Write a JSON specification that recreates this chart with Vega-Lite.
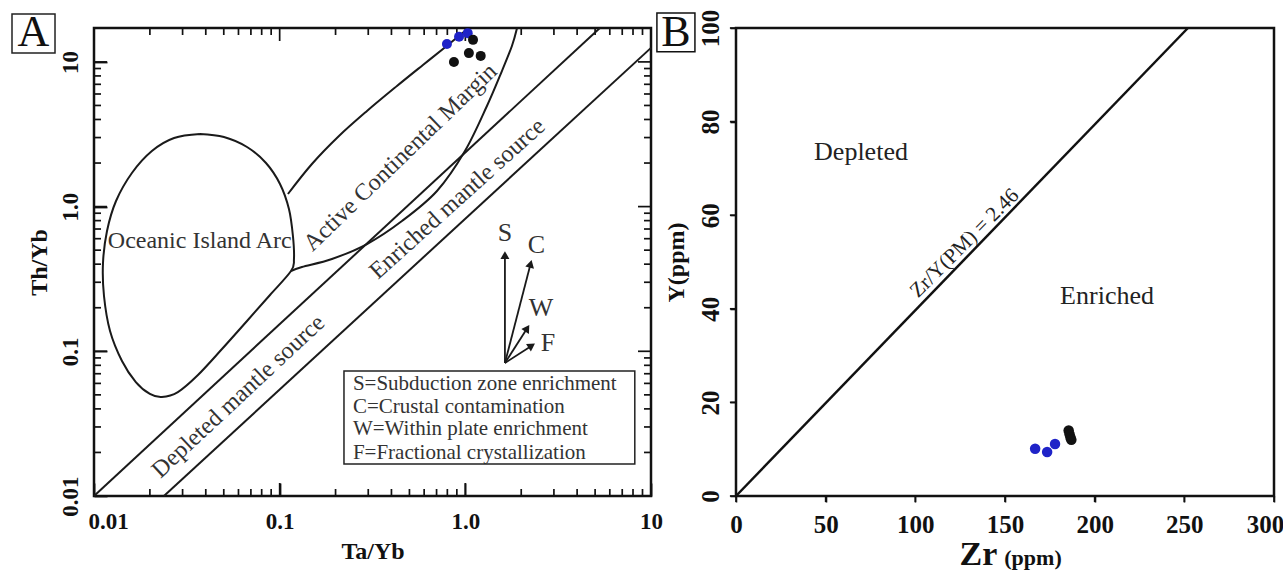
{
  "$schema": "https://vega.github.io/schema/vega-lite/v6.json",
  "background": "white",
  "padding": {"left": 10, "top": 8, "right": 0, "bottom": 0},
  "spacing": 85,
  "bounds": "flush",
  "config": {
    "view": {"stroke": "#111", "strokeWidth": 2.5},
    "font": "Liberation Serif",
    "axis": {"labelFont": "Liberation Serif", "titleFont": "Liberation Serif", "labelFontWeight": "bold", "titleFontWeight": "bold", "labelColor": "#111", "titleColor": "#111", "domain": false, "grid": false, "labelOverlap": false, "labelFlush": false},
    "text": {"font": "Liberation Serif"}
  },
  "datasets": {
    "mantle": [
      {"seg": "u", "o": 1, "x": 0.01, "y": 0.01},
      {"seg": "u", "o": 2, "x": 5.305, "y": 17.15},
      {"seg": "l", "o": 1, "x": 0.0238, "y": 0.01},
      {"seg": "l", "o": 2, "x": 10, "y": 12.5}
    ],
    "curves": [
      {"seg": "oia", "o": 1, "x": 0.0372, "y": 3.175},
      {"seg": "oia", "o": 2, "x": 0.0501, "y": 3.027},
      {"seg": "oia", "o": 3, "x": 0.0667, "y": 2.582},
      {"seg": "oia", "o": 4, "x": 0.0844, "y": 2.001},
      {"seg": "oia", "o": 5, "x": 0.1004, "y": 1.433},
      {"seg": "oia", "o": 6, "x": 0.1122, "y": 0.9625},
      {"seg": "oia", "o": 7, "x": 0.1179, "y": 0.6263},
      {"seg": "oia", "o": 8, "x": 0.1194, "y": 0.4344},
      {"seg": "oia", "o": 9, "x": 0.1151, "y": 0.3588},
      {"seg": "oia", "o": 10, "x": 0.0887, "y": 0.2449},
      {"seg": "oia", "o": 11, "x": 0.0667, "y": 0.162},
      {"seg": "oia", "o": 12, "x": 0.0489, "y": 0.1037},
      {"seg": "oia", "o": 13, "x": 0.0363, "y": 0.0686},
      {"seg": "oia", "o": 14, "x": 0.0283, "y": 0.0523},
      {"seg": "oia", "o": 15, "x": 0.0232, "y": 0.0483},
      {"seg": "oia", "o": 16, "x": 0.02, "y": 0.0507},
      {"seg": "oia", "o": 17, "x": 0.0168, "y": 0.0613},
      {"seg": "oia", "o": 18, "x": 0.01415, "y": 0.0857},
      {"seg": "oia", "o": 19, "x": 0.0122, "y": 0.1381},
      {"seg": "oia", "o": 20, "x": 0.01132, "y": 0.2411},
      {"seg": "oia", "o": 21, "x": 0.01118, "y": 0.4076},
      {"seg": "oia", "o": 22, "x": 0.01175, "y": 0.6784},
      {"seg": "oia", "o": 23, "x": 0.01314, "y": 1.093},
      {"seg": "oia", "o": 24, "x": 0.016, "y": 1.707},
      {"seg": "oia", "o": 25, "x": 0.0205, "y": 2.422},
      {"seg": "oia", "o": 26, "x": 0.027, "y": 2.979},
      {"seg": "oia", "o": 27, "x": 0.0372, "y": 3.175},
      {"seg": "acmL", "o": 1, "x": 0.1108, "y": 1.222},
      {"seg": "acmL", "o": 2, "x": 0.1492, "y": 1.97},
      {"seg": "acmL", "o": 3, "x": 0.2086, "y": 3.075},
      {"seg": "acmL", "o": 4, "x": 0.2953, "y": 4.579},
      {"seg": "acmL", "o": 5, "x": 0.4282, "y": 6.814},
      {"seg": "acmL", "o": 6, "x": 0.591, "y": 9.52},
      {"seg": "acmL", "o": 7, "x": 0.806, "y": 13.09},
      {"seg": "acmL", "o": 8, "x": 1.033, "y": 17.0},
      {"seg": "acmR", "o": 1, "x": 1.896, "y": 17.0},
      {"seg": "acmR", "o": 2, "x": 1.782, "y": 12.88},
      {"seg": "acmR", "o": 3, "x": 1.574, "y": 8.65},
      {"seg": "acmR", "o": 4, "x": 1.307, "y": 4.957},
      {"seg": "acmR", "o": 5, "x": 0.995, "y": 2.422},
      {"seg": "acmR", "o": 6, "x": 0.7034, "y": 1.282},
      {"seg": "acmR", "o": 7, "x": 0.4557, "y": 0.7951},
      {"seg": "acmR", "o": 8, "x": 0.2953, "y": 0.5514},
      {"seg": "acmR", "o": 9, "x": 0.1912, "y": 0.4344},
      {"seg": "acmR", "o": 10, "x": 0.1318, "y": 0.3825},
      {"seg": "acmR", "o": 11, "x": 0.1151, "y": 0.3588}
    ],
    "tkA": [
      {"x": 0.01, "y": 0.01, "x2": 0.01, "y2": 0.0123}, {"x": 0.02, "y": 0.01, "x2": 0.02, "y2": 0.01118}, {"x": 0.03, "y": 0.01, "x2": 0.03, "y2": 0.01118}, {"x": 0.04, "y": 0.01, "x2": 0.04, "y2": 0.01118}, {"x": 0.05, "y": 0.01, "x2": 0.05, "y2": 0.01118}, {"x": 0.06, "y": 0.01, "x2": 0.06, "y2": 0.01118}, {"x": 0.07, "y": 0.01, "x2": 0.07, "y2": 0.01118}, {"x": 0.08, "y": 0.01, "x2": 0.08, "y2": 0.01118}, {"x": 0.09, "y": 0.01, "x2": 0.09, "y2": 0.01118},
      {"x": 0.1, "y": 0.01, "x2": 0.1, "y2": 0.0123}, {"x": 0.2, "y": 0.01, "x2": 0.2, "y2": 0.01118}, {"x": 0.3, "y": 0.01, "x2": 0.3, "y2": 0.01118}, {"x": 0.4, "y": 0.01, "x2": 0.4, "y2": 0.01118}, {"x": 0.5, "y": 0.01, "x2": 0.5, "y2": 0.01118}, {"x": 0.6, "y": 0.01, "x2": 0.6, "y2": 0.01118}, {"x": 0.7, "y": 0.01, "x2": 0.7, "y2": 0.01118}, {"x": 0.8, "y": 0.01, "x2": 0.8, "y2": 0.01118}, {"x": 0.9, "y": 0.01, "x2": 0.9, "y2": 0.01118},
      {"x": 1, "y": 0.01, "x2": 1, "y2": 0.0123}, {"x": 2, "y": 0.01, "x2": 2, "y2": 0.01118}, {"x": 3, "y": 0.01, "x2": 3, "y2": 0.01118}, {"x": 4, "y": 0.01, "x2": 4, "y2": 0.01118}, {"x": 5, "y": 0.01, "x2": 5, "y2": 0.01118}, {"x": 6, "y": 0.01, "x2": 6, "y2": 0.01118}, {"x": 7, "y": 0.01, "x2": 7, "y2": 0.01118}, {"x": 8, "y": 0.01, "x2": 8, "y2": 0.01118}, {"x": 9, "y": 0.01, "x2": 9, "y2": 0.01118}, {"x": 10, "y": 0.01, "x2": 10, "y2": 0.0123},
      {"x": 0.01, "y": 17.15, "x2": 0.01, "y2": 13.94}, {"x": 0.02, "y": 17.15, "x2": 0.02, "y2": 15.34}, {"x": 0.03, "y": 17.15, "x2": 0.03, "y2": 15.34}, {"x": 0.04, "y": 17.15, "x2": 0.04, "y2": 15.34}, {"x": 0.05, "y": 17.15, "x2": 0.05, "y2": 15.34}, {"x": 0.06, "y": 17.15, "x2": 0.06, "y2": 15.34}, {"x": 0.07, "y": 17.15, "x2": 0.07, "y2": 15.34}, {"x": 0.08, "y": 17.15, "x2": 0.08, "y2": 15.34}, {"x": 0.09, "y": 17.15, "x2": 0.09, "y2": 15.34},
      {"x": 0.1, "y": 17.15, "x2": 0.1, "y2": 13.94}, {"x": 0.2, "y": 17.15, "x2": 0.2, "y2": 15.34}, {"x": 0.3, "y": 17.15, "x2": 0.3, "y2": 15.34}, {"x": 0.4, "y": 17.15, "x2": 0.4, "y2": 15.34}, {"x": 0.5, "y": 17.15, "x2": 0.5, "y2": 15.34}, {"x": 0.6, "y": 17.15, "x2": 0.6, "y2": 15.34}, {"x": 0.7, "y": 17.15, "x2": 0.7, "y2": 15.34}, {"x": 0.8, "y": 17.15, "x2": 0.8, "y2": 15.34}, {"x": 0.9, "y": 17.15, "x2": 0.9, "y2": 15.34},
      {"x": 1, "y": 17.15, "x2": 1, "y2": 13.94}, {"x": 2, "y": 17.15, "x2": 2, "y2": 15.34}, {"x": 3, "y": 17.15, "x2": 3, "y2": 15.34}, {"x": 4, "y": 17.15, "x2": 4, "y2": 15.34}, {"x": 5, "y": 17.15, "x2": 5, "y2": 15.34}, {"x": 6, "y": 17.15, "x2": 6, "y2": 15.34}, {"x": 7, "y": 17.15, "x2": 7, "y2": 15.34}, {"x": 8, "y": 17.15, "x2": 8, "y2": 15.34}, {"x": 9, "y": 17.15, "x2": 9, "y2": 15.34}, {"x": 10, "y": 17.15, "x2": 10, "y2": 13.94},
      {"x": 0.01, "y": 0.01, "x2": 0.01175, "y2": 0.01}, {"x": 0.01, "y": 0.02, "x2": 0.01091, "y2": 0.02}, {"x": 0.01, "y": 0.03, "x2": 0.01091, "y2": 0.03}, {"x": 0.01, "y": 0.04, "x2": 0.01091, "y2": 0.04}, {"x": 0.01, "y": 0.05, "x2": 0.01091, "y2": 0.05}, {"x": 0.01, "y": 0.06, "x2": 0.01091, "y2": 0.06}, {"x": 0.01, "y": 0.07, "x2": 0.01091, "y2": 0.07}, {"x": 0.01, "y": 0.08, "x2": 0.01091, "y2": 0.08}, {"x": 0.01, "y": 0.09, "x2": 0.01091, "y2": 0.09},
      {"x": 0.01, "y": 0.1, "x2": 0.01175, "y2": 0.1}, {"x": 0.01, "y": 0.2, "x2": 0.01091, "y2": 0.2}, {"x": 0.01, "y": 0.3, "x2": 0.01091, "y2": 0.3}, {"x": 0.01, "y": 0.4, "x2": 0.01091, "y2": 0.4}, {"x": 0.01, "y": 0.5, "x2": 0.01091, "y2": 0.5}, {"x": 0.01, "y": 0.6, "x2": 0.01091, "y2": 0.6}, {"x": 0.01, "y": 0.7, "x2": 0.01091, "y2": 0.7}, {"x": 0.01, "y": 0.8, "x2": 0.01091, "y2": 0.8}, {"x": 0.01, "y": 0.9, "x2": 0.01091, "y2": 0.9},
      {"x": 0.01, "y": 1, "x2": 0.01175, "y2": 1}, {"x": 0.01, "y": 2, "x2": 0.01091, "y2": 2}, {"x": 0.01, "y": 3, "x2": 0.01091, "y2": 3}, {"x": 0.01, "y": 4, "x2": 0.01091, "y2": 4}, {"x": 0.01, "y": 5, "x2": 0.01091, "y2": 5}, {"x": 0.01, "y": 6, "x2": 0.01091, "y2": 6}, {"x": 0.01, "y": 7, "x2": 0.01091, "y2": 7}, {"x": 0.01, "y": 8, "x2": 0.01091, "y2": 8}, {"x": 0.01, "y": 9, "x2": 0.01091, "y2": 9}, {"x": 0.01, "y": 10, "x2": 0.01175, "y2": 10},
      {"x": 10, "y": 0.01, "x2": 8.51, "y2": 0.01}, {"x": 10, "y": 0.02, "x2": 9.169, "y2": 0.02}, {"x": 10, "y": 0.03, "x2": 9.169, "y2": 0.03}, {"x": 10, "y": 0.04, "x2": 9.169, "y2": 0.04}, {"x": 10, "y": 0.05, "x2": 9.169, "y2": 0.05}, {"x": 10, "y": 0.06, "x2": 9.169, "y2": 0.06}, {"x": 10, "y": 0.07, "x2": 9.169, "y2": 0.07}, {"x": 10, "y": 0.08, "x2": 9.169, "y2": 0.08}, {"x": 10, "y": 0.09, "x2": 9.169, "y2": 0.09},
      {"x": 10, "y": 0.1, "x2": 8.51, "y2": 0.1}, {"x": 10, "y": 0.2, "x2": 9.169, "y2": 0.2}, {"x": 10, "y": 0.3, "x2": 9.169, "y2": 0.3}, {"x": 10, "y": 0.4, "x2": 9.169, "y2": 0.4}, {"x": 10, "y": 0.5, "x2": 9.169, "y2": 0.5}, {"x": 10, "y": 0.6, "x2": 9.169, "y2": 0.6}, {"x": 10, "y": 0.7, "x2": 9.169, "y2": 0.7}, {"x": 10, "y": 0.8, "x2": 9.169, "y2": 0.8}, {"x": 10, "y": 0.9, "x2": 9.169, "y2": 0.9},
      {"x": 10, "y": 1, "x2": 8.51, "y2": 1}, {"x": 10, "y": 2, "x2": 9.169, "y2": 2}, {"x": 10, "y": 3, "x2": 9.169, "y2": 3}, {"x": 10, "y": 4, "x2": 9.169, "y2": 4}, {"x": 10, "y": 5, "x2": 9.169, "y2": 5}, {"x": 10, "y": 6, "x2": 9.169, "y2": 6}, {"x": 10, "y": 7, "x2": 9.169, "y2": 7}, {"x": 10, "y": 8, "x2": 9.169, "y2": 8}, {"x": 10, "y": 9, "x2": 9.169, "y2": 9}, {"x": 10, "y": 10, "x2": 8.51, "y2": 10}
    ],
    "annA": [
      {"t": "Oceanic Island Arc", "x": 0.03713, "y": 0.5784},
      {"t": "Active Continental Margin", "x": 0.4472, "y": 2.184},
      {"t": "Enriched mantle source", "x": 0.9068, "y": 1.128},
      {"t": "Depleted mantle source", "x": 0.05999, "y": 0.0487}
    ],
    "rectsA": [
      {"k": "legend", "x": 0.222, "x2": 8.18, "y": 0.0731, "y2": 0.01664},
      {"k": "letter", "x": 0.003617, "x2": 0.006166, "y": 21.43, "y2": 11.52}
    ],
    "legA": [
      {"t": "S=Subduction zone enrichment", "x": 0.248, "y": 0.0594},
      {"t": "C=Crustal contamination", "x": 0.248, "y": 0.0412},
      {"t": "W=Within plate enrichment", "x": 0.248, "y": 0.029},
      {"t": "F=Fractional crystallization", "x": 0.248, "y": 0.0198}
    ],
    "arrA": [
      {"a": "S", "x": 1.634, "y": 0.083, "x2": 1.634, "y2": 0.4628},
      {"a": "C", "x": 1.634, "y": 0.083, "x2": 2.247, "y2": 0.4025},
      {"a": "W", "x": 1.634, "y": 0.083, "x2": 2.154, "y2": 0.1444},
      {"a": "F", "x": 1.634, "y": 0.083, "x2": 2.278, "y2": 0.1093}
    ],
    "headsA": [
      {"a": "S", "x": 1.634, "y": 0.4628},
      {"a": "C", "x": 2.247, "y": 0.4025},
      {"a": "W", "x": 2.154, "y": 0.1444},
      {"a": "F", "x": 2.278, "y": 0.1093}
    ],
    "arrLabA": [
      {"t": "S", "x": 1.634, "y": 0.6518},
      {"t": "C", "x": 2.415, "y": 0.5428},
      {"t": "W", "x": 2.554, "y": 0.1992},
      {"t": "F", "x": 2.785, "y": 0.1141}
    ],
    "letterA": [
      {"t": "A", "x": 0.00472, "y": 15.72}
    ],
    "ptsA": [
      {"grp": "blue", "x": 0.796, "y": 13.3},
      {"grp": "blue", "x": 0.925, "y": 14.9},
      {"grp": "blue", "x": 1.03, "y": 15.8},
      {"grp": "black", "x": 1.1, "y": 14.2},
      {"grp": "black", "x": 1.045, "y": 11.5},
      {"grp": "black", "x": 1.21, "y": 11.0},
      {"grp": "black", "x": 0.868, "y": 9.98}
    ],
    "lineB": [
      {"o": 1, "x": 0, "y": 0},
      {"o": 2, "x": 252, "y": 100}
    ],
    "tkB": [
      {"x": 0, "y": 0, "x2": 0, "y2": -1.3}, {"x": 50, "y": 0, "x2": 50, "y2": -1.3}, {"x": 100, "y": 0, "x2": 100, "y2": -1.3}, {"x": 150, "y": 0, "x2": 150, "y2": -1.3}, {"x": 200, "y": 0, "x2": 200, "y2": -1.3}, {"x": 250, "y": 0, "x2": 250, "y2": -1.3}, {"x": 300, "y": 0, "x2": 300, "y2": -1.3},
      {"x": 0, "y": 0, "x2": -3.4, "y2": 0}, {"x": 0, "y": 20, "x2": -3.4, "y2": 20}, {"x": 0, "y": 40, "x2": -3.4, "y2": 40}, {"x": 0, "y": 60, "x2": -3.4, "y2": 60}, {"x": 0, "y": 80, "x2": -3.4, "y2": 80}, {"x": 0, "y": 100, "x2": -3.4, "y2": 100}
    ],
    "annB": [
      {"t": "Depleted", "x": 69.7, "y": 73.4},
      {"t": "Enriched", "x": 206.9, "y": 42.8},
      {"t": "Zr/Y(PM) = 2.46", "x": 127.5, "y": 54.0}
    ],
    "rectB": [
      {"k": "letter", "x": -44.1, "x2": -22.9, "y": 103.2, "y2": 94.9}
    ],
    "letterB": [
      {"t": "B", "x": -33.5, "y": 99.0}
    ],
    "unitB": [
      {"t": "(ppm)", "x": 165.6, "y": -13.3}
    ],
    "ptsB": [
      {"grp": "blue", "x": 166.8, "y": 10.1},
      {"grp": "blue", "x": 173.5, "y": 9.4},
      {"grp": "blue", "x": 177.9, "y": 11.1},
      {"grp": "black", "x": 185.5, "y": 14.0},
      {"grp": "black", "x": 186.0, "y": 13.2},
      {"grp": "black", "x": 186.5, "y": 12.5},
      {"grp": "black", "x": 187.0, "y": 12.0}
    ]
  },
  "hconcat": [
    {
      "width": 557,
      "height": 468,
      "encoding": {
        "x": {"field": "x", "type": "quantitative", "scale": {"type": "log", "domain": [0.01, 10], "nice": false},
          "axis": {"orient": "bottom", "values": [0.01, 0.1, 1, 10],
            "labelExpr": "datum.value == 1 ? '1.0' : datum.value == 10 ? '10' : datum.value == 0.1 ? '0.1' : '0.01'",
            "labelOffset": {"condition": {"test": "datum.value == 0.01", "value": 14}, "value": 0},
            "offset": -13, "tickSize": 13, "tickWidth": 1.8, "tickColor": "#111", "labelFontSize": 23, "labelPadding": 14, "title": "Ta/Yb", "titleFontSize": 24, "titlePadding": 6}},
        "y": {"field": "y", "type": "quantitative", "scale": {"type": "log", "domain": [0.01, 17.15], "nice": false},
          "axis": {"orient": "left", "values": [0.01, 0.1, 1, 10],
            "labelExpr": "datum.value == 1 ? '1.0' : datum.value == 10 ? '10' : datum.value == 0.1 ? '0.1' : '0.01'",
            "offset": -13, "tickSize": 13, "tickWidth": 1.8, "tickColor": "#111", "labelFontSize": 23, "labelAngle": 270, "labelAlign": "center", "labelBaseline": "alphabetic", "labelPadding": 17,
            "title": "Th/Yb", "titleFontSize": 24, "titlePadding": 8}}
      },
      "layer": [
        {"data": {"name": "tkA"}, "mark": {"type": "rule", "color": "#111", "strokeWidth": 1.7}, "encoding": {"x2": {"field": "x2"}, "y2": {"field": "y2"}}},
        {"data": {"name": "mantle"}, "mark": {"type": "line", "color": "#1a1a1a", "strokeWidth": 2}, "encoding": {"detail": {"field": "seg"}, "order": {"field": "o"}}},
        {"data": {"name": "curves"}, "mark": {"type": "line", "interpolate": "cardinal", "color": "#1a1a1a", "strokeWidth": 2}, "encoding": {"detail": {"field": "seg"}, "order": {"field": "o"}}},
        {"data": {"name": "annA"}, "transform": [{"filter": "datum.t == 'Oceanic Island Arc'"}], "mark": {"type": "text", "fontSize": 24, "color": "#333", "align": "center", "baseline": "middle"}, "encoding": {"text": {"field": "t"}}},
        {"data": {"name": "annA"}, "transform": [{"filter": "datum.t == 'Active Continental Margin'"}], "mark": {"type": "text", "fontSize": 24, "color": "#333", "angle": 316, "align": "center", "baseline": "middle"}, "encoding": {"text": {"field": "t"}}},
        {"data": {"name": "annA"}, "transform": [{"filter": "datum.t == 'Enriched mantle source'"}], "mark": {"type": "text", "fontSize": 24, "color": "#333", "angle": 318, "align": "center", "baseline": "middle"}, "encoding": {"text": {"field": "t"}}},
        {"data": {"name": "annA"}, "transform": [{"filter": "datum.t == 'Depleted mantle source'"}], "mark": {"type": "text", "fontSize": 24, "color": "#333", "angle": 317, "align": "center", "baseline": "middle"}, "encoding": {"text": {"field": "t"}}},
        {"data": {"name": "rectsA"}, "mark": {"type": "rect", "fill": "white", "stroke": "#222", "strokeWidth": 1.5, "clip": false}, "encoding": {"x2": {"field": "x2"}, "y2": {"field": "y2"}}},
        {"data": {"name": "legA"}, "mark": {"type": "text", "fontSize": 21, "color": "#333", "align": "left", "baseline": "middle"}, "encoding": {"text": {"field": "t"}}},
        {"data": {"name": "arrA"}, "mark": {"type": "rule", "color": "#1a1a1a", "strokeWidth": 1.8}, "encoding": {"x2": {"field": "x2"}, "y2": {"field": "y2"}}},
        {"data": {"name": "headsA"}, "transform": [{"filter": "datum.a == 'S'"}], "mark": {"type": "point", "shape": "triangle-up", "filled": true, "size": 80, "color": "#1a1a1a", "opacity": 1, "angle": 0}},
        {"data": {"name": "headsA"}, "transform": [{"filter": "datum.a == 'C'"}], "mark": {"type": "point", "shape": "triangle-up", "filled": true, "size": 80, "color": "#1a1a1a", "opacity": 1, "angle": 14.6}},
        {"data": {"name": "headsA"}, "transform": [{"filter": "datum.a == 'W'"}], "mark": {"type": "point", "shape": "triangle-up", "filled": true, "size": 80, "color": "#1a1a1a", "opacity": 1, "angle": 32.7}},
        {"data": {"name": "headsA"}, "transform": [{"filter": "datum.a == 'F'"}], "mark": {"type": "point", "shape": "triangle-up", "filled": true, "size": 80, "color": "#1a1a1a", "opacity": 1, "angle": 57.2}},
        {"data": {"name": "arrLabA"}, "mark": {"type": "text", "fontSize": 26, "color": "#333", "align": "center", "baseline": "middle"}, "encoding": {"text": {"field": "t"}}},
        {"data": {"name": "letterA"}, "mark": {"type": "text", "fontSize": 44, "color": "#111", "align": "center", "baseline": "middle", "clip": false}, "encoding": {"text": {"field": "t"}}},
        {"data": {"name": "ptsA"}, "mark": {"type": "point", "filled": true, "size": 100, "opacity": 1},
          "encoding": {"color": {"field": "grp", "type": "nominal", "scale": {"domain": ["blue", "black"], "range": ["#1f23c8", "#111111"]}, "legend": null}}}
      ]
    },
    {
      "width": 538,
      "height": 468,
      "encoding": {
        "x": {"field": "x", "type": "quantitative", "scale": {"domain": [0, 300], "nice": false, "zero": false},
          "axis": {"values": [0, 50, 100, 150, 200, 250, 300], "tickSize": 6, "tickWidth": 1.6, "tickColor": "#111", "labelFontSize": 25, "labelPadding": 10,
            "labelOffset": {"condition": {"test": "datum.value == 300", "value": -9}, "value": 0},
            "title": "Zr", "titleFontSize": 34, "titleX": 242, "titleAlign": "center", "titlePadding": 0}},
        "y": {"field": "y", "type": "quantitative", "scale": {"domain": [0, 100], "nice": false, "zero": false},
          "axis": {"values": [0, 20, 40, 60, 80, 100], "tickSize": 6, "tickWidth": 1.6, "tickColor": "#111", "labelFontSize": 25, "labelAngle": 270, "labelAlign": "center", "labelBaseline": "alphabetic", "labelPadding": 12,
            "title": "Y(ppm)", "titleFontSize": 24, "titlePadding": 10}}
      },
      "layer": [
        {"data": {"name": "tkB"}, "mark": {"type": "rule", "color": "#111", "strokeWidth": 1.7, "clip": false}, "encoding": {"x2": {"field": "x2"}, "y2": {"field": "y2"}}},
        {"data": {"name": "lineB"}, "mark": {"type": "line", "color": "#111", "strokeWidth": 2.5}, "encoding": {"order": {"field": "o"}}},
        {"data": {"name": "annB"}, "transform": [{"filter": "datum.t != 'Zr/Y(PM) = 2.46'"}], "mark": {"type": "text", "fontSize": 26, "color": "#222", "align": "center", "baseline": "middle"}, "encoding": {"text": {"field": "t"}}},
        {"data": {"name": "annB"}, "transform": [{"filter": "datum.t == 'Zr/Y(PM) = 2.46'"}], "mark": {"type": "text", "fontSize": 21, "color": "#222", "angle": 315, "align": "center", "baseline": "middle"}, "encoding": {"text": {"field": "t"}}},
        {"data": {"name": "ptsB"}, "mark": {"type": "point", "filled": true, "size": 110, "opacity": 1},
          "encoding": {"color": {"field": "grp", "type": "nominal", "scale": {"domain": ["blue", "black"], "range": ["#1f23c8", "#111111"]}, "legend": null}}},
        {"data": {"name": "rectB"}, "mark": {"type": "rect", "fill": "white", "stroke": "#111", "strokeWidth": 1.5, "clip": false}, "encoding": {"x2": {"field": "x2"}, "y2": {"field": "y2"}}},
        {"data": {"name": "letterB"}, "mark": {"type": "text", "fontSize": 44, "color": "#111", "align": "center", "baseline": "middle", "clip": false}, "encoding": {"text": {"field": "t"}}},
        {"data": {"name": "unitB"}, "mark": {"type": "text", "fontSize": 22, "fontWeight": "bold", "color": "#111", "align": "center", "baseline": "middle", "clip": false}, "encoding": {"text": {"field": "t"}}}
      ]
    }
  ]
}
